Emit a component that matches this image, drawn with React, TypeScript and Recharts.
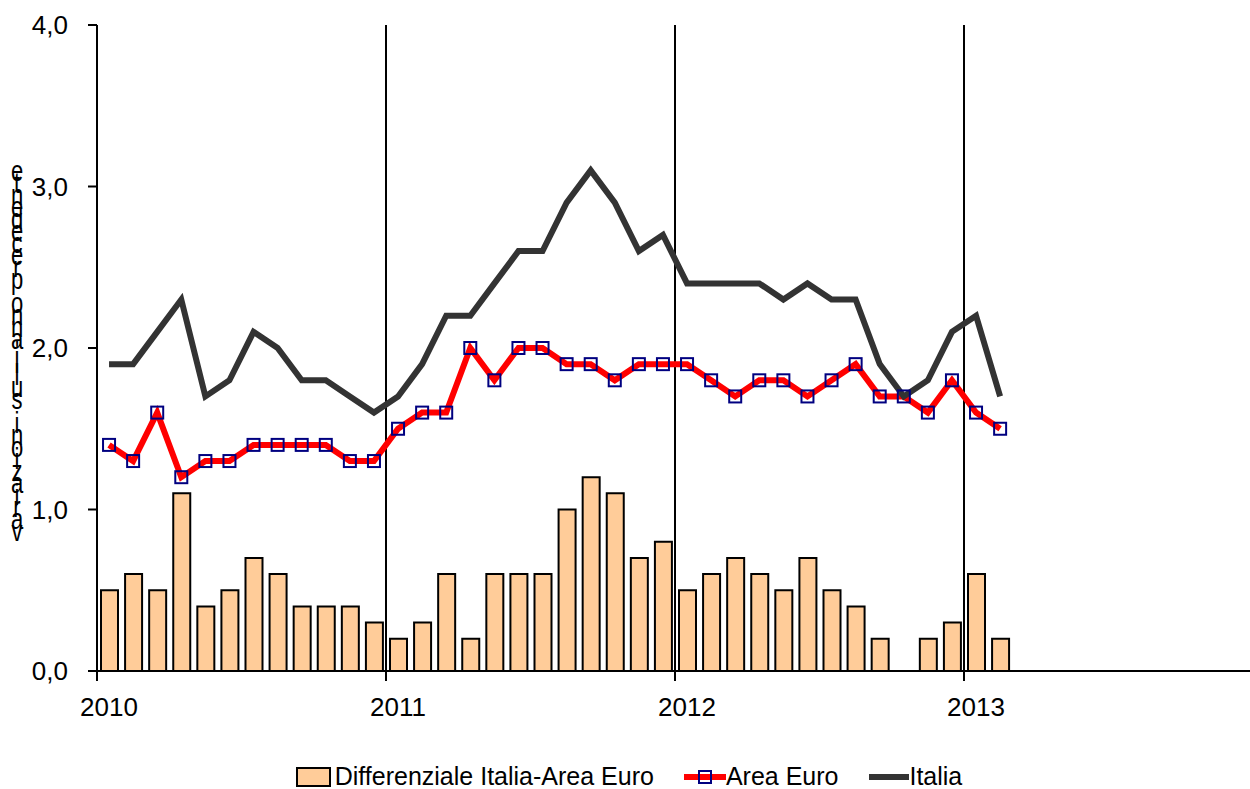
import React from "react";
import {
  ComposedChart, Bar, Line, XAxis, YAxis, ReferenceLine
} from "recharts";

// mesi da gennaio 2010 a febbraio 2013
const startYear = 2010;
const yearTicks = [2010, 2011, 2012, 2013, 2014];
const yearLines = [2011, 2012, 2013];
const valueTicks = [0, 1, 2, 3, 4];

const differenziale = [
  0.5, 0.6, 0.5, 1.1, 0.4, 0.5, 0.7, 0.6, 0.4, 0.4, 0.4, 0.3,
  0.2, 0.3, 0.6, 0.2, 0.6, 0.6, 0.6, 1.0, 1.2, 1.1, 0.7, 0.8,
  0.5, 0.6, 0.7, 0.6, 0.5, 0.7, 0.5, 0.4, 0.2, 0.0, 0.2, 0.3,
  0.6, 0.2,
];
const areaEuro = [
  1.4, 1.3, 1.6, 1.2, 1.3, 1.3, 1.4, 1.4, 1.4, 1.4, 1.3, 1.3,
  1.5, 1.6, 1.6, 2.0, 1.8, 2.0, 2.0, 1.9, 1.9, 1.8, 1.9, 1.9,
  1.9, 1.8, 1.7, 1.8, 1.8, 1.7, 1.8, 1.9, 1.7, 1.7, 1.6, 1.8,
  1.6, 1.5,
];
const italia = [
  1.9, 1.9, 2.1, 2.3, 1.7, 1.8, 2.1, 2.0, 1.8, 1.8, 1.7, 1.6,
  1.7, 1.9, 2.2, 2.2, 2.4, 2.6, 2.6, 2.9, 3.1, 2.9, 2.6, 2.7,
  2.4, 2.4, 2.4, 2.4, 2.3, 2.4, 2.3, 2.3, 1.9, 1.7, 1.8, 2.1,
  2.2, 1.7,
];

const yLabel = "variazioni sull'anno precedente";

// punto a metà del mese
const data = areaEuro.map((v, i) => ({
  t: startYear + (i + 0.5) / 12,
  diff: differenziale[i],
  euro: v,
  italia: italia[i],
}));

const font = "'Liberation Sans', Arial, sans-serif";
const narrow = "'Liberation Sans Narrow', 'Arial Narrow', sans-serif";

const YearTick = (props: any) => {
  const { x, y, payload } = props;
  if (payload.value >= 2014) return null;
  return (
    <text x={x + 12} y={y} dy="0.71em" textAnchor="middle" fontSize={26} fontFamily={font} fill="#000">
      {payload.value}
    </text>
  );
};

const SquareDot = (props: any) => {
  const { cx, cy, index } = props;
  if (cx == null || cy == null) return null;
  return <rect key={index} x={cx - 6} y={cy - 6} width={12} height={12} fill="none" stroke="#000080" strokeWidth={2} />;
};

const ChartLegend = () => (
  <div style={{
    position: "absolute", top: 762, left: 4, width: 1250, display: "flex",
    justifyContent: "center", alignItems: "center", fontFamily: narrow, fontSize: 25, color: "#000",
  }}>
    <div style={{ width: 31, height: 16, background: "#FFCC99", border: "2px solid #000", marginRight: 4 }} />
    <span>Differenziale Italia-Area Euro</span>
    <svg width={42} height={20} style={{ marginLeft: 30 }}>
      <line x1={0} y1={10} x2={42} y2={10} stroke="#FF0000" strokeWidth={6} />
      <rect x={15} y={4} width={12} height={12} fill="none" stroke="#000080" strokeWidth={2} />
    </svg>
    <span>Area Euro</span>
    <svg width={40} height={20} style={{ marginLeft: 31 }}>
      <line x1={0} y1={10} x2={40} y2={10} stroke="#333333" strokeWidth={6} />
    </svg>
    <span>Italia</span>
  </div>
);

const App = () => {
  return (
    <div style={{ position: "absolute", left: 0, top: 0, width: 1250, height: 789, overflow: "hidden", background: "#fff" }}>
      <ComposedChart width={1253} height={789} data={data} margin={{ top: 25, right: 0, bottom: 0, left: 0 }}>
        <XAxis
          dataKey="t"
          type="number"
          domain={[2010, 2014]}
          ticks={yearTicks}
          interval={0}
          height={118}
          tickSize={10}
          tickMargin={17}
          axisLine={{ stroke: "#000", strokeWidth: 2 }}
          tickLine={{ stroke: "#000", strokeWidth: 2 }}
          tick={<YearTick />}
        />
        <YAxis
          type="number"
          domain={[0, 4]}
          ticks={valueTicks}
          width={97}
          tickSize={9}
          tickMargin={20}
          axisLine={{ stroke: "#000", strokeWidth: 2 }}
          tickLine={{ stroke: "#000", strokeWidth: 2 }}
          tick={{ fontSize: 26, fontFamily: font, fill: "#000" }}
          tickFormatter={(v: number) => v.toFixed(1).replace(".", ",")}
        />
        {yearLines.map((y) => (
          <ReferenceLine key={y} x={y} stroke="#000" strokeWidth={2} />
        ))}
        <Bar dataKey="diff" barSize={17} fill="#FFCC99" stroke="#000" strokeWidth={2} isAnimationActive={false} />
        <Line dataKey="euro" stroke="#FF0000" strokeWidth={6} dot={<SquareDot />} activeDot={false} isAnimationActive={false} />
        <Line dataKey="italia" stroke="#333333" strokeWidth={6} dot={false} activeDot={false} isAnimationActive={false} />
      </ComposedChart>
      <div style={{
        position: "absolute", left: 9, top: 166, width: 16, height: 372, display: "flex",
        flexDirection: "column-reverse", fontFamily: font, fontSize: 22, color: "#000",
      }}>
        {yLabel.split("").map((c, i) => (
          <span key={i} style={{ display: "block", height: 12, lineHeight: "12px", textAlign: "center", transform: "scaleY(1.3)" }}>{c}</span>
        ))}
      </div>
      <ChartLegend />
    </div>
  );
};

export default App;
